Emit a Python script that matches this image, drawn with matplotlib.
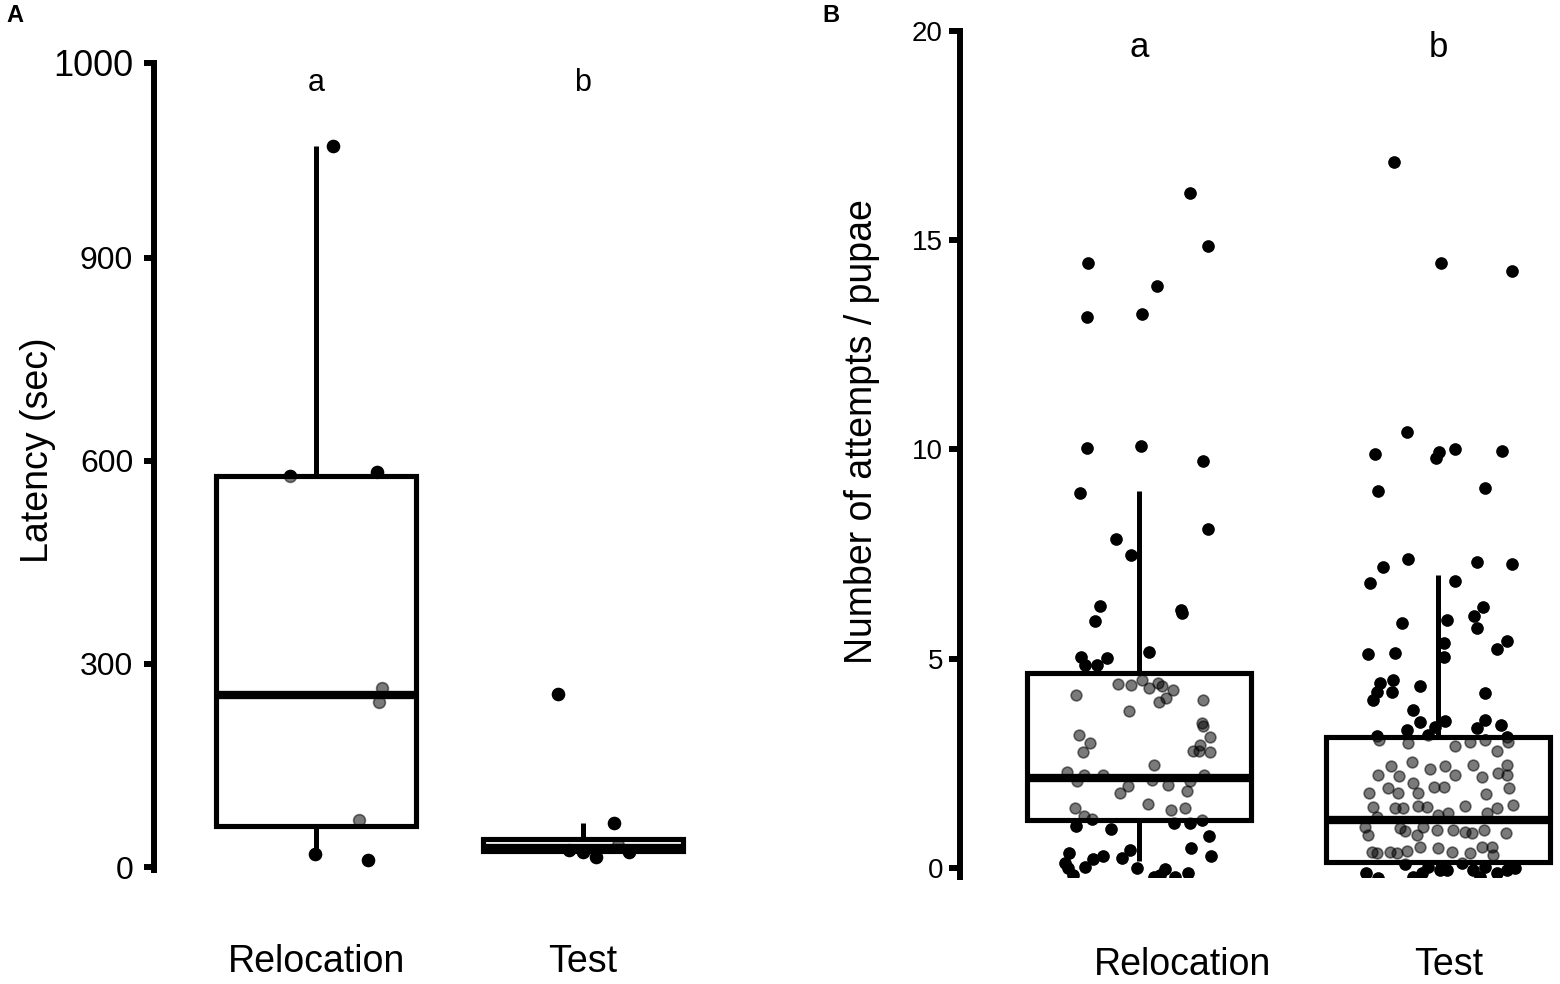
import numpy as np
import matplotlib
matplotlib.use("Agg")
import matplotlib.pyplot as plt

plt.rcParams['font.family'] = ['Liberation Sans', 'DejaVu Sans']

groups = ['Relocation', 'Test']
letters = ['a', 'b']

# ---- panel A: latency (sec) ----
# points: (x jitter offset, value)
lat_reloc = [(0.064, 1065), (-0.097, 578), (0.228, 583), (0.247, 264),
             (0.236, 244), (0.161, 70), (-0.004, 20), (0.195, 10)]
lat_test = [(-0.094, 255), (0.116, 65), (-0.052, 25), (0.0, 22),
            (0.048, 15), (0.131, 32), (0.172, 22)]
# box stats: whislo, q1, med, q3, whishi
lat_box = [(15, 60, 254, 578, 1065), (22, 24, 28, 41, 65)]
lat_ticks = [0, 300, 600, 900, 1188]
lat_ticklabels = ['0', '300', '600', '900', '1000']

# ---- panel B: number of attempts / pupae ----
att_reloc = [
    (0.171, 16.13), (0.231, 14.87), (-0.171, 14.46), (0.060, 13.91), (-0.174, 13.17),
    (0.010, 13.24), (-0.174, 10.03), (0.007, 10.07), (0.214, 9.73), (-0.197, 8.95),
    (0.231, 8.10), (-0.077, 7.86), (-0.027, 7.48), (-0.130, 6.26), (-0.147, 5.90),
    (0.140, 6.16), (0.144, 6.09), (0.033, 5.16), (-0.194, 5.05), (-0.181, 4.85),
    (-0.140, 4.85), (-0.107, 5.02),
    (-0.211, 4.13), (-0.070, 4.39), (-0.027, 4.37), (0.010, 4.49), (0.033, 4.30),
    (0.064, 4.41), (0.077, 4.35), (0.114, 4.25), (0.090, 4.06), (0.067, 3.97),
    (0.214, 4.01), (-0.033, 3.75), (0.211, 3.46), (0.214, 3.39), (-0.201, 3.17),
    (-0.164, 2.99), (-0.187, 2.77), (0.237, 3.13), (0.204, 2.94), (0.181, 2.79),
    (0.201, 2.79), (0.237, 2.77), (0.050, 2.46), (-0.241, 2.28), (-0.207, 2.07),
    (-0.184, 2.22), (-0.120, 2.22), (0.043, 2.10), (0.097, 1.98), (0.171, 2.07),
    (0.217, 2.22), (-0.037, 1.96), (-0.064, 1.79), (0.161, 1.84), (0.030, 1.52),
    (-0.214, 1.43), (0.107, 1.38), (0.154, 1.43), (-0.184, 1.24), (-0.157, 1.17),
    (0.211, 1.14),
    (-0.211, 0.99), (-0.094, 0.93), (0.117, 1.07), (0.171, 1.07), (0.234, 0.76),
    (0.174, 0.47), (0.241, 0.29), (-0.234, 0.35), (-0.247, 0.12), (-0.237, 0.00),
    (-0.221, -0.17), (-0.181, 0.02), (-0.154, 0.21), (-0.120, 0.29), (-0.057, 0.23),
    (-0.030, 0.43), (-0.007, 0.00), (0.050, -0.22), (0.087, -0.03), (0.120, -0.22),
    (0.164, -0.12), (0.070, -0.17),
]
att_test = [
    (-0.147, 16.87), (0.010, 14.46), (0.247, 14.27), (-0.104, 10.42), (-0.211, 9.89),
    (0.003, 9.95), (-0.007, 9.79), (0.057, 10.00), (0.214, 9.97), (-0.201, 9.00),
    (0.157, 9.07), (-0.102, 7.38), (-0.184, 7.19), (0.130, 7.31), (0.247, 7.26),
    (-0.227, 6.80), (0.057, 6.85), (0.151, 6.23), (0.120, 6.02), (0.030, 5.93),
    (-0.120, 5.85), (0.130, 5.73), (0.020, 5.37), (0.231, 5.42), (0.197, 5.23),
    (-0.234, 5.11), (-0.144, 5.14), (0.020, 5.04), (-0.194, 4.42), (-0.151, 4.49),
    (-0.154, 4.20), (-0.204, 4.20), (-0.217, 4.01), (-0.060, 4.35), (0.157, 4.18),
    (-0.084, 3.77), (-0.060, 3.49), (-0.104, 3.30), (0.023, 3.52), (-0.010, 3.37),
    (0.157, 3.54), (0.211, 3.42), (0.130, 3.34), (-0.204, 3.15), (-0.033, 3.17),
    (0.231, 3.13),
    (-0.197, 3.05), (-0.100, 2.98), (0.057, 2.91), (0.107, 3.01), (0.157, 3.05),
    (0.197, 2.79), (0.234, 3.01), (-0.087, 2.53), (-0.157, 2.43), (-0.027, 2.36),
    (0.023, 2.43), (0.117, 2.46), (0.231, 2.46), (-0.201, 2.22), (-0.130, 2.19),
    (0.057, 2.22), (0.147, 2.17), (0.201, 2.26), (0.231, 2.22), (-0.084, 2.03),
    (-0.167, 1.91), (-0.013, 1.94), (0.020, 1.94), (0.237, 1.91), (-0.231, 1.79),
    (-0.134, 1.79), (-0.067, 1.79), (0.161, 1.77), (-0.217, 1.46), (-0.144, 1.43),
    (-0.117, 1.43), (-0.067, 1.48), (-0.037, 1.46), (0.090, 1.48), (0.164, 1.31),
    (0.197, 1.43), (0.251, 1.50), (-0.204, 1.21), (0.0, 1.26), (0.033, 1.31),
    (-0.244, 0.98), (-0.234, 0.79), (-0.127, 0.95), (-0.110, 0.88), (-0.070, 0.79),
    (-0.050, 0.98), (-0.003, 0.90), (0.050, 0.90), (0.090, 0.85), (0.114, 0.83),
    (0.154, 0.90), (0.227, 0.83), (-0.221, 0.38), (-0.204, 0.35), (-0.161, 0.38),
    (-0.137, 0.35), (-0.104, 0.40), (-0.060, 0.50), (0.0, 0.47), (0.047, 0.38),
    (0.107, 0.35), (0.147, 0.50), (0.181, 0.50), (0.184, 0.31),
    (-0.241, -0.12), (-0.201, -0.24), (-0.110, 0.09), (-0.084, -0.22), (-0.054, -0.12),
    (-0.033, 0.02), (0.007, -0.05), (0.030, -0.05), (0.080, 0.11), (0.117, -0.05),
    (0.140, -0.22), (0.157, 0.02), (0.197, -0.12), (0.231, -0.05), (0.258, 0.00),
]
att_box = [(0.17, 1.14, 2.14, 4.65, 9.0), (0.0, 0.15, 1.14, 3.13, 7.01)]
att_ticks = [0, 5, 10, 15, 20]

fig = plt.figure(figsize=(15.6, 9.84), dpi=100)
axA = fig.add_axes([0.0987, 0.1154, 0.3606, 0.8208])
axB = fig.add_axes([0.6151, 0.1087, 0.3853, 0.8598])


def draw_panel(ax, point_sets, box_rows, dot_size, label_x, label_y, letter_y, letter_size):
    # solid points under the box, translucent copies on top (grey inside the box)
    for i, pts in enumerate(point_sets):
        pts = np.array(pts)
        ax.scatter(i + pts[:, 0], pts[:, 1], s=dot_size, color='black',
                   edgecolors='black', linewidths=1.2, zorder=2)
        ax.scatter(i + pts[:, 0], pts[:, 1], s=dot_size, color='black',
                   edgecolors='black', linewidths=1.2, alpha=0.52, zorder=4)
    stats = []
    for row in box_rows:
        lo, q1, med, q3, hi = row
        stats.append(dict(whislo=lo, q1=q1, med=med, q3=q3, whishi=hi))
    ax.bxp(stats, positions=[0, 1], widths=0.75, patch_artist=True,
           showfliers=False, showcaps=False,
           boxprops=dict(facecolor='white', edgecolor='black', linewidth=3.7),
           medianprops=dict(color='black', linewidth=6, solid_capstyle='butt'),
           whiskerprops=dict(color='black', linewidth=3.6, solid_capstyle='butt'),
           zorder=3)
    for s in ['top', 'right', 'bottom']:
        ax.spines[s].set_visible(False)
    ax.spines['left'].set_linewidth(4.3)
    ax.set_xticks([])
    for i, g in enumerate(groups):
        ax.text(label_x[i], label_y, g, transform=ax.get_xaxis_transform(),
                ha='center', va='center', fontsize=27)
        ax.text(i, letter_y, letters[i], transform=ax.get_xaxis_transform(),
                ha='center', va='center', fontsize=letter_size)


draw_panel(axA, [lat_reloc, lat_test], lat_box, 72, [0.0, 1.0], -0.113, 0.975, 22)
axA.set_xlim(-0.607, 1.5)
axA.set_ylim(-5, 1188)
axA.set_yticks(lat_ticks)
axA.set_yticklabels(lat_ticklabels)
axA.tick_params(axis='y', length=7, width=4.3, labelsize=23, pad=8)
axA.get_yticklabels()[-1].set_fontsize(26)
axA.set_ylabel('Latency (sec)', fontsize=27)
axA.yaxis.set_label_coords(-0.174, 0.52)

draw_panel(axB, [att_reloc, att_test], att_box, 60, [0.147, 1.037], -0.104, 0.981, 25)
axB.set_xlim(-0.6, 1.41)
axB.set_ylim(-0.22, 20.0)
axB.set_yticks(att_ticks)
axB.tick_params(axis='y', length=8, width=4.3, labelsize=20, pad=4)
axB.set_ylabel('Number of attempts / pupae', fontsize=27)
axB.yaxis.set_label_coords(-0.132, 0.526)

fig.text(0.004, 0.984, 'A', fontsize=17, fontweight='bold', ha='left', va='center')
fig.text(0.527, 0.984, 'B', fontsize=17, fontweight='bold', ha='left', va='center')

fig.savefig('out.png', dpi=100)
